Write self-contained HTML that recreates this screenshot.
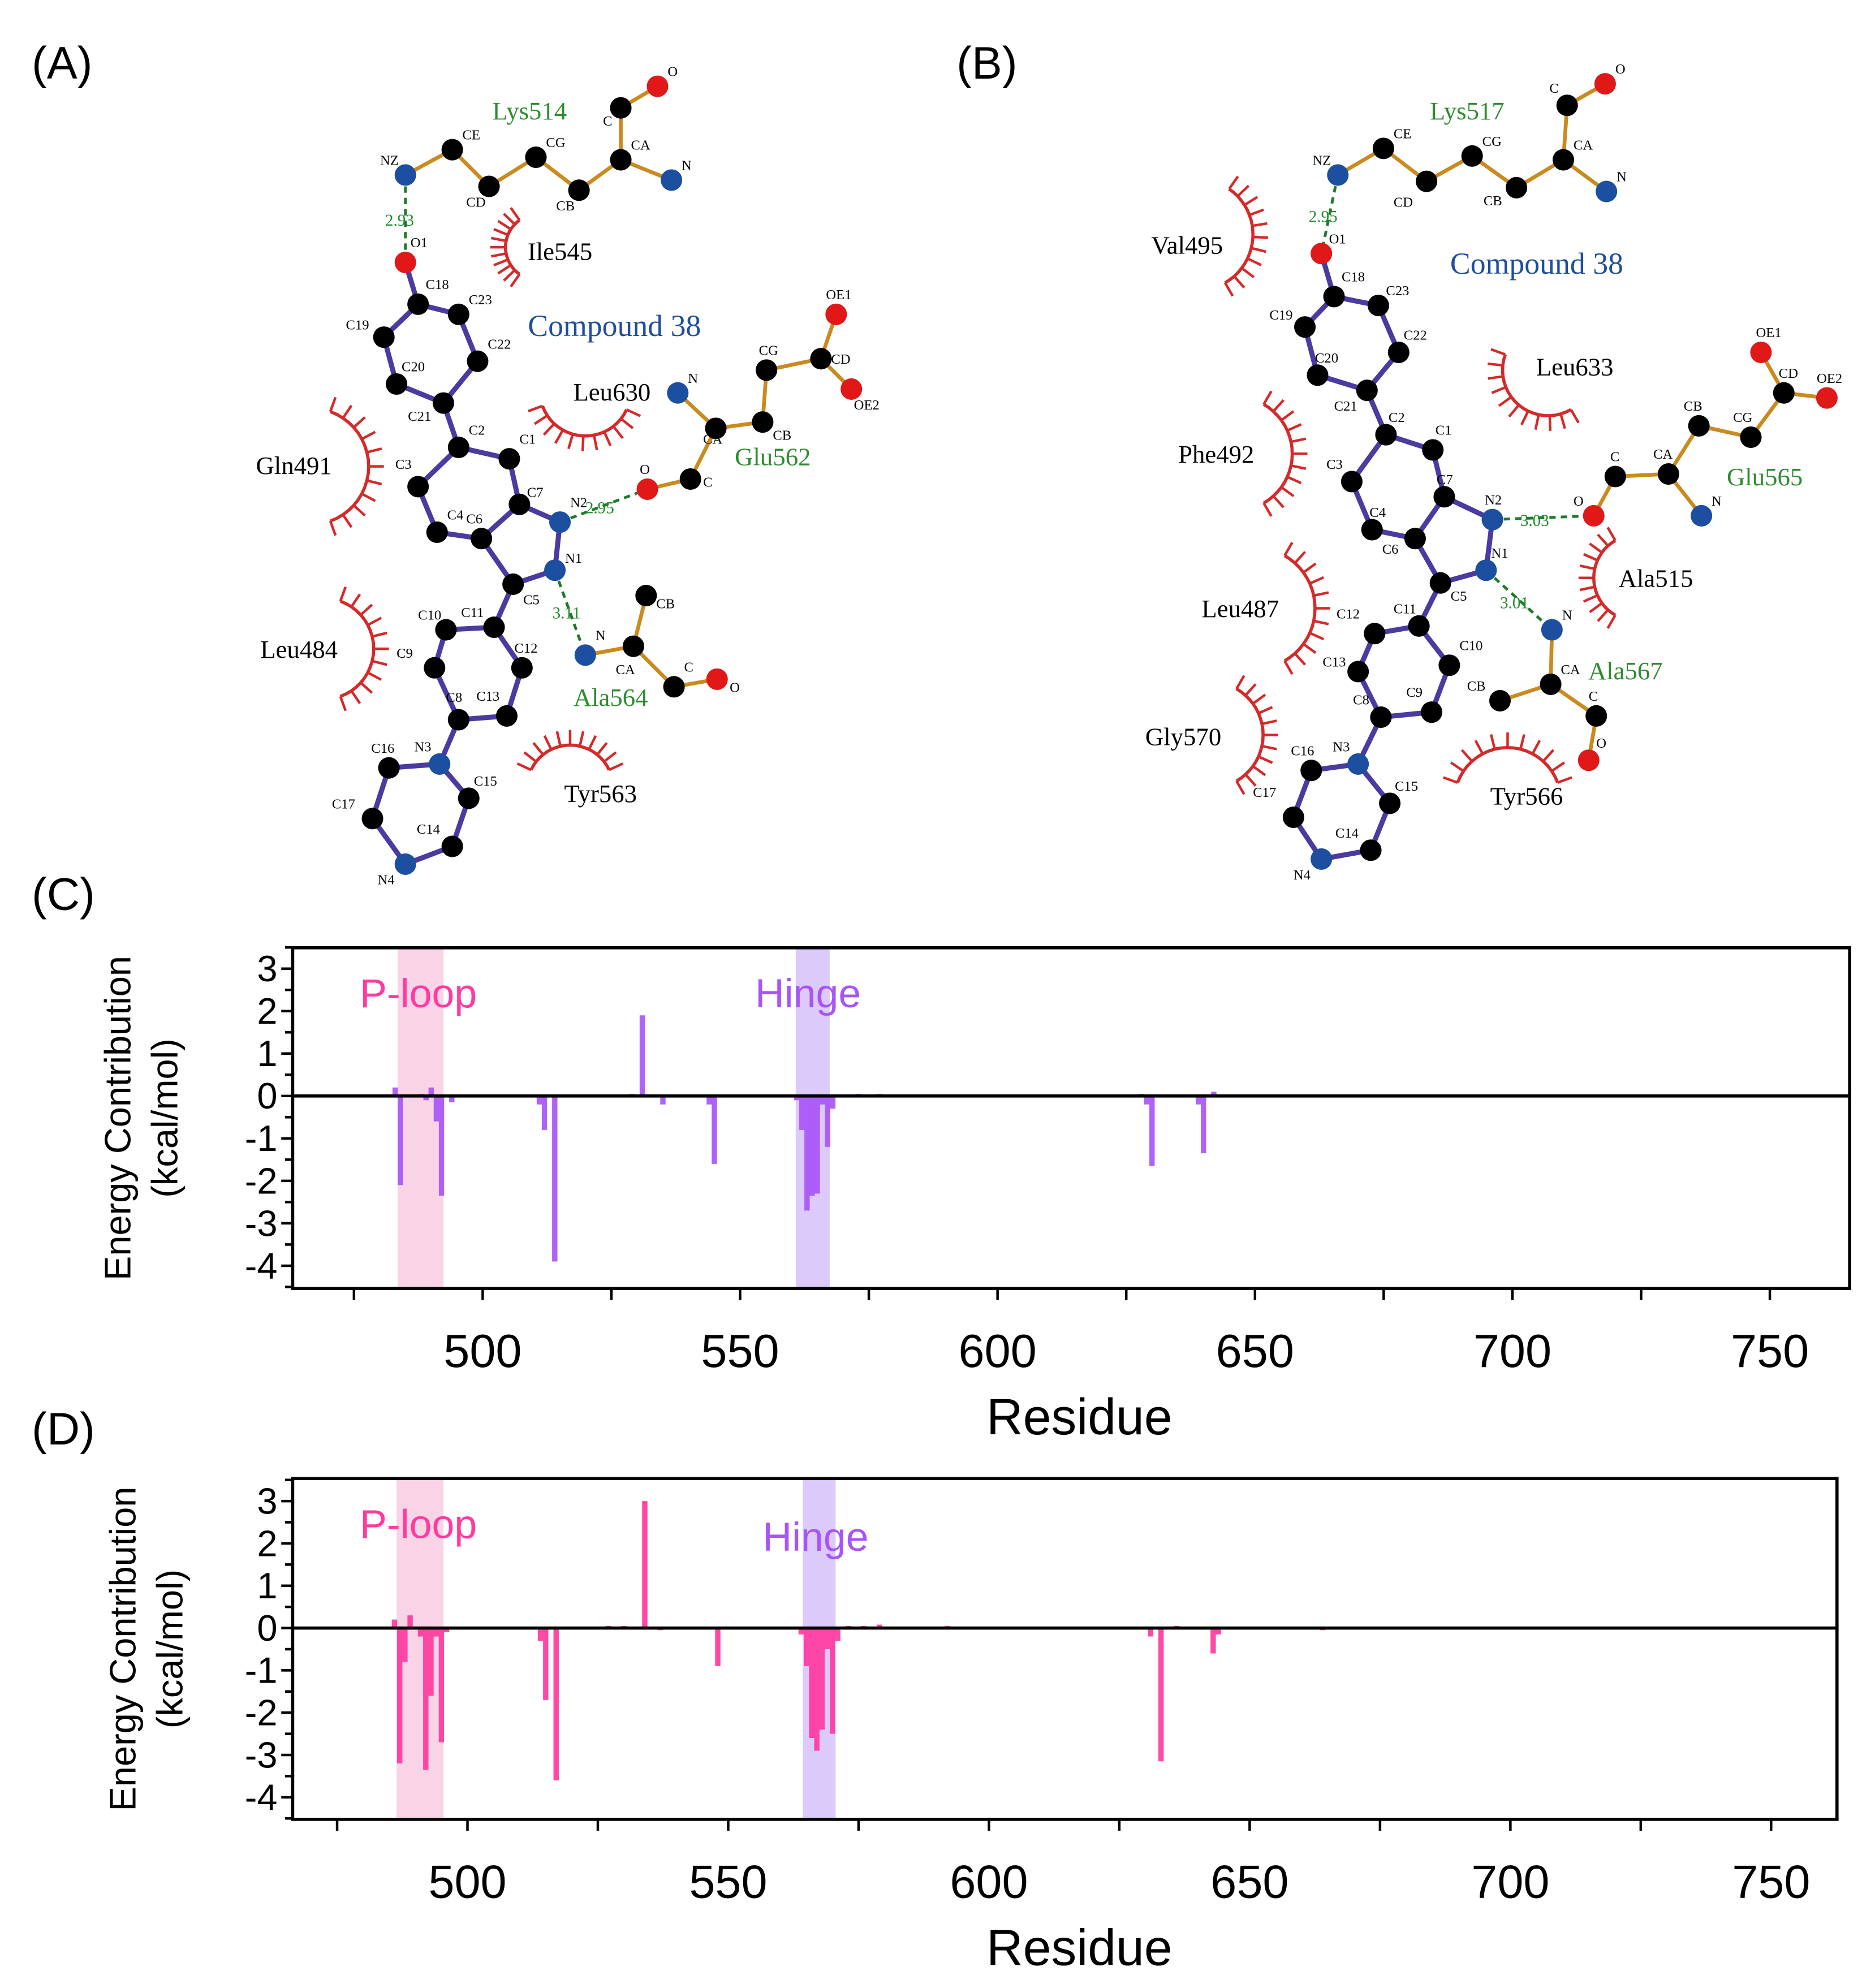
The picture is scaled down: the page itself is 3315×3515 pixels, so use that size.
<!DOCTYPE html>
<html><head><meta charset="utf-8"><style>
html,body{margin:0;padding:0;background:#fff}
svg{display:block}
text{font-family:"Liberation Sans",sans-serif}
.serif{font-family:"Liberation Serif",serif}
</style></head><body>
<svg id="fig" xmlns="http://www.w3.org/2000/svg" width="3315" height="3515" viewBox="0 0 1480 1569">
<rect width="1480" height="1569" fill="#fff"/>
<g id="mols"></g>
<g id="chartC"></g>
<g id="chartD"></g>
</svg>
<script>
// ---------- Chart data ----------
const residuesC = [483,484,488,489,490,491,492,494,511,512,514,527,529,531,535,544,545,561,562,563,564,565,566,567,568,573,577,628,629,630,634,639,640,642];
const valuesC   = [0.2,-2.1,0.05,-0.1,0.2,-0.6,-2.35,-0.15,-0.2,-0.8,-3.9,0.03,0.05,1.9,-0.2,-0.2,-1.6,-0.1,-0.8,-2.7,-2.35,-2.3,-0.2,-1.2,-0.3,0.05,0.05,0.05,-0.2,-1.65,0.03,-0.2,-1.35,0.1];
const residuesD = [486,487,488,489,491,492,493,494,495,496,514,515,517,527,530,534,537,548,564,565,566,567,568,569,570,571,573,576,579,592,631,633,636,643,644,664];
const valuesD   = [0.2,-3.2,-0.8,0.3,-0.2,-3.35,-1.6,-0.2,-2.7,-0.1,-0.3,-1.7,-3.6,0.05,0.05,3.0,-0.05,-0.9,-0.15,-0.9,-2.6,-2.9,-2.4,-0.5,-2.5,-0.3,0.05,0.05,0.08,0.05,-0.2,-3.15,0.05,-0.6,-0.15,-0.05];
const xTickLabels = [500,550,600,650,700,750];
const yTickLabels = [3,2,1,0,-1,-2,-3,-4];
const ploopC = [483.5,492.4], hingeC = [560.8,567.4];
const ploopD = [486.4,495.4], hingeD = [564.3,570.6];

const NS="http://www.w3.org/2000/svg";
function el(tag,attrs,parent,txt){const e=document.createElementNS(NS,tag);for(const k in attrs)e.setAttribute(k,attrs[k]);if(txt!==undefined)e.textContent=txt;parent.appendChild(e);return e;}

function drawChart(g,cfg){
  const X=v=>cfg.x0+(v-500)*cfg.xs, Y=v=>cfg.y0-v*cfg.ys;
  let r=el('rect',{x:X(cfg.ploop[0]),y:cfg.top,width:X(cfg.ploop[1])-X(cfg.ploop[0]),height:cfg.bot-cfg.top,fill:'#f9d3e6'},g);
  
  r=el('rect',{x:X(cfg.hinge[0]),y:cfg.top,width:X(cfg.hinge[1])-X(cfg.hinge[0]),height:cfg.bot-cfg.top,fill:'#dccafb'},g);
  
  let t=el('text',{x:cfg.plx,y:cfg.ply,'font-size':32,fill:'#ff3aa0'},g,'P-loop');
  
  t=el('text',{x:cfg.hx,y:cfg.hy,'font-size':32,fill:'#a855f7'},g,'Hinge');
  
  cfg.res.forEach((rs,i)=>{
    const v=cfg.vals[i];
    const b=el('rect',{x:X(rs)-2.1,y:Math.min(Y(v),Y(0)),width:4.2,height:Math.abs(Y(v)-Y(0)),fill:cfg.color,opacity:0.92},g);
    
    
  });
  const f=el('rect',{x:cfg.left,y:cfg.top,width:cfg.right-cfg.left,height:cfg.bot-cfg.top,fill:'none',stroke:'#000','stroke-width':2.5},g);
  
  const z=el('line',{x1:cfg.left,x2:cfg.right,y1:Y(0),y2:Y(0),stroke:'#000','stroke-width':2.5},g);
  
  for(let v=-4.5;v<=3.5;v+=0.5){
    const yy=Y(v); if(yy<cfg.top-1||yy>cfg.bot+1)continue;
    const major=Number.isInteger(v);
    el('line',{x1:cfg.left-(major?9:6),x2:cfg.left,y1:yy,y2:yy,stroke:'#000','stroke-width':2},g);
  }
  yTickLabels.forEach(v=>{
    const tl=el('text',{x:cfg.left-12,y:Y(v)+10,'font-size':29,'text-anchor':'end'},g,String(v));
    
  });
  for(let v=475;v<=750;v+=25){
    el('line',{x1:X(v),x2:X(v),y1:cfg.bot,y2:cfg.bot+9,stroke:'#000','stroke-width':2},g);
  }
  xTickLabels.forEach(v=>{
    const tl=el('text',{x:X(v),y:cfg.bot+62,'font-size':37,'text-anchor':'middle'},g,String(v));
    
  });
  t=el('text',{x:852,y:cfg.bot+115,'font-size':40,'text-anchor':'middle'},g,'Residue');
  
  const yc=(cfg.top+cfg.bot)/2;
  t=el('text',{x:0,y:0,'font-size':29,'text-anchor':'middle',transform:`translate(${cfg.ytx},${yc}) rotate(-90)`},g,'Energy Contribution');
  
  t=el('text',{x:0,y:0,'font-size':29,'text-anchor':'middle',transform:`translate(${cfg.ytx+37},${yc}) rotate(-90)`},g,'(kcal/mol)');
  
}
drawChart(document.getElementById('chartC'),{res:residuesC,vals:valuesC,color:'#a855f7',x0:381,xs:4.064,y0:865,ys:33.5,left:231,right:1460,top:748,bot:1017,ploop:ploopC,hinge:hingeC,plx:284,ply:795,hx:596,hy:795,ytx:103});
drawChart(document.getElementById('chartD'),{res:residuesD,vals:valuesD,color:'#ff3aa0',x0:369,xs:4.116,y0:1285,ys:33.4,left:231,right:1450,top:1167,bot:1436,ploop:ploopD,hinge:hingeD,plx:284,ply:1214,hx:602,hy:1224,ytx:107});

const mg=document.getElementById('mols');
[['(A)',25,62],['(B)',755,62],['(C)',25,718],['(D)',25,1140]].forEach(p=>{
  const t=el('text',{x:p[1],y:p[2],'font-size':36},mg,p[0]);
  
  
});

function molecule(g,m){
  m.arcs.forEach(a=>{
    const [cx,cy,r,a0,a1]=a, rad=d=>d*Math.PI/180;
    let d='';
    for(let k=0;k<=20;k++){const an=rad(a0+(a1-a0)*k/20);d+=(k?'L':'M')+(cx+r*Math.cos(an)).toFixed(1)+' '+(cy+r*Math.sin(an)).toFixed(1);}
    el('path',{d,fill:'none',stroke:'#d42a2a','stroke-width':2.5},g);
    for(let k=0;k<=10;k++){const an=rad(a0+(a1-a0)*k/10);
      el('line',{x1:cx+r*Math.cos(an),y1:cy+r*Math.sin(an),x2:cx+(r+12)*Math.cos(an),y2:cy+(r+12)*Math.sin(an),stroke:'#d42a2a','stroke-width':2},g);}
  });
  const A=m.atoms;
  m.side.forEach(b=>el('line',{x1:A[b[0]][0],y1:A[b[0]][1],x2:A[b[1]][0],y2:A[b[1]][1],stroke:'#c98a1e','stroke-width':3},g));
  m.lig.forEach(b=>el('line',{x1:A[b[0]][0],y1:A[b[0]][1],x2:A[b[1]][0],y2:A[b[1]][1],stroke:'#4b3aa0','stroke-width':4},g));
  m.hb.forEach(h=>{
    el('line',{x1:A[h[0]][0],y1:A[h[0]][1],x2:A[h[1]][0],y2:A[h[1]][1],stroke:'#1f7a2a','stroke-width':2.2,'stroke-dasharray':'5 4'},g);
    const t=el('text',{x:h[3],y:h[4],'font-size':13,fill:'#1f8a2a',class:'serif'},g,h[2]);
    
  });
  for(const k in A){
    const [x,y,c,lx,ly]=A[k];
    const col=c==='r'?'#e01818':c==='b'?'#1c4fa0':'#000';
    el('circle',{cx:x,cy:y,r:8.5,fill:col},g);
    const name=k.split('_')[0];
    el('text',{x:x+(lx||8),y:y+(ly||-8),'font-size':11,class:'serif'},g,name);
  }
  m.labels.forEach(l=>{
    const t=el('text',{x:l[1],y:l[2],'font-size':l[4]||20,fill:l[3],'text-anchor':'middle',class:'serif'},g,l[0]);
    
  });
}
const gA=el('g',{},mg);
molecule(gA,{
 atoms:{NZ:[320,138,'b',-20,-8],CE:[357,118,'k'],CD:[386,147,'k',-18,16],CG:[423,124,'k'],CB:[457,150,'k',-18,16],CA:[490,126,'k'],C_l:[490,85,'k',-14,14],O_l:[519,68,'r'],N_l:[530,142,'b'],
  O1:[320,207,'r',4,-12],C18:[330,240,'k',6,-12],C23:[362,248,'k',8,-8],C22:[377,285,'k',0,-10],C21:[350,318,'k',-28,14],C20:[313,303,'k',4,-10],C19:[303,266,'k',-30,-6],
  C2:[362,353,'k',0,-10],C1:[402,362,'k',0,-12],C7:[410,398,'k',6,-6],C6:[380,425,'k',-12,-12],C4:[345,420,'k',0,-10],C3:[330,384,'k',-18,-14],
  N2:[442,412,'b',0,-12],N1:[438,450,'b',8,-6],C5:[405,461,'k',8,16],
  C11:[390,495,'k',-26,-8],C12:[412,527,'k',-6,-12],C13:[400,565,'k',-24,-12],C8:[362,568,'k',-10,-14],C9:[343,527,'k',-30,0],C10:[352,497,'k',-22,-8],
  N3:[347,603,'b',-20,-10],C16:[307,606,'k',-14,-12],C17:[294,646,'k',-32,-8],N4:[320,682,'b',-22,16],C14:[357,668,'k',-28,-10],C15:[370,630,'k',4,-10],
  N_g:[535,310,'b'],CA_g:[565,338,'k',-10,12],CB_g:[602,333,'k',8,14],CG_g:[605,292,'k',-6,-12],CD_g:[648,283,'k',8,4],OE1:[660,248,'r',-8,-12],OE2:[672,307,'r',2,16],C_g:[545,378,'k',10,6],O_g:[511,386,'r',-6,-12],
  N_a:[462,517,'b',0,-12],CA_a:[500,510,'k',-14,22],CB_a:[510,470,'k',8,10],C_a:[532,542,'k',0,-12],O_a:[566,536,'r',10,10]},
 side:[['NZ','CE'],['CE','CD'],['CD','CG'],['CG','CB'],['CB','CA'],['CA','C_l'],['C_l','O_l'],['CA','N_l'],
  ['N_g','CA_g'],['CA_g','CB_g'],['CB_g','CG_g'],['CG_g','CD_g'],['CD_g','OE1'],['CD_g','OE2'],['CA_g','C_g'],['C_g','O_g'],
  ['N_a','CA_a'],['CA_a','CB_a'],['CA_a','C_a'],['C_a','O_a']],
 lig:[['O1','C18'],['C18','C23'],['C23','C22'],['C22','C21'],['C21','C20'],['C20','C19'],['C19','C18'],['C21','C2'],['C2','C1'],['C1','C7'],['C7','C6'],['C6','C4'],['C4','C3'],['C3','C2'],
  ['C7','N2'],['N2','N1'],['N1','C5'],['C5','C6'],['C5','C11'],['C11','C12'],['C12','C13'],['C13','C8'],['C8','C9'],['C9','C10'],['C10','C11'],['C8','N3'],['N3','C16'],['C16','C17'],['C17','N4'],['N4','C14'],['C14','C15'],['C15','N3']],
 hb:[['NZ','O1','2.93',304,178],['N2','O_g','2.95',462,405],['N1','N_a','3.11',436,488]],
 arcs:[[425,195,26,125,235],[462,308,36,25,160],[245,368,46,-70,70],[255,512,40,-70,70],[450,622,34,205,335]],
 labels:[['Lys514',418,94,'#2e8b2e'],['Ile545',442,205,'#000'],['Compound 38',485,265,'#1f4e9c',24],['Leu630',483,316,'#000'],['Glu562',610,367,'#2e8b2e'],['Gln491',232,374,'#000'],['Leu484',236,519,'#000'],['Ala564',482,557,'#2e8b2e'],['Tyr563',474,633,'#000']]
});
const gB=el('g',{},mg);
molecule(gB,{
 atoms:{NZ:[1056,138,'b',-20,-8],CE:[1092,117,'k'],CD:[1126,143,'k',-26,20],CG:[1162,123,'k'],CB:[1197,148,'k',-26,14],CA:[1234,126,'k'],C_l:[1237,83,'k',-14,-10],O_l:[1267,66,'r'],N_l:[1268,151,'b'],
  O1:[1043,200,'r',6,-8],C18:[1053,234,'k',6,-12],C23:[1088,241,'k',6,-8],C22:[1104,278,'k',4,-10],C21:[1079,308,'k',-26,16],C20:[1040,296,'k',-2,-10],C19:[1030,258,'k',-28,-6],
  C2:[1094,343,'k',2,-10],C1:[1131,355,'k',2,-12],C7:[1140,392,'k',-6,-10],C6:[1117,425,'k',-26,12],C4:[1083,418,'k',-2,-10],C3:[1067,380,'k',-20,-10],
  N2:[1178,410,'b',-6,-12],N1:[1173,450,'b',4,-10],C5:[1137,460,'k',8,14],
  C11:[1120,494,'k',-20,-10],C10:[1144,525,'k',0,-12],C9:[1130,562,'k',-20,-12],C8:[1090,566,'k',-22,-10],C13:[1072,530,'k',-28,-4],C12:[1085,500,'k',-30,-12],
  N3:[1072,603,'b',-20,-10],C16:[1035,608,'k',-16,-12],C17:[1021,645,'k',-32,-16],N4:[1043,678,'b',-22,16],C14:[1082,671,'k',-28,-10],C15:[1097,634,'k',4,-10],
  O_g:[1258,407,'r',-16,-8],C_g:[1275,376,'k',-4,-12],CA_g:[1317,374,'k',-12,-12],N_g:[1343,407,'b'],CB_g:[1341,336,'k',-12,-12],CG_g:[1382,345,'k',-14,-12],CD_g:[1408,310,'k',-4,-12],OE1:[1390,278,'r',-4,-12],OE2:[1442,314,'r',-8,-12],
  N_a:[1225,497,'b'],CA_a:[1224,540,'k'],CB_a:[1184,553,'k',-26,-8],C_a:[1260,565,'k',-6,-12],O_a:[1254,600,'r',6,-10]},
 side:[['NZ','CE'],['CE','CD'],['CD','CG'],['CG','CB'],['CB','CA'],['CA','C_l'],['C_l','O_l'],['CA','N_l'],
  ['O_g','C_g'],['C_g','CA_g'],['CA_g','N_g'],['CA_g','CB_g'],['CB_g','CG_g'],['CG_g','CD_g'],['CD_g','OE1'],['CD_g','OE2'],
  ['N_a','CA_a'],['CA_a','CB_a'],['CA_a','C_a'],['C_a','O_a']],
 lig:[['O1','C18'],['C18','C23'],['C23','C22'],['C22','C21'],['C21','C20'],['C20','C19'],['C19','C18'],['C21','C2'],['C2','C1'],['C1','C7'],['C7','C6'],['C6','C4'],['C4','C3'],['C3','C2'],
  ['C7','N2'],['N2','N1'],['N1','C5'],['C5','C6'],['C5','C11'],['C11','C10'],['C10','C9'],['C9','C8'],['C8','C13'],['C13','C12'],['C12','C11'],['C8','N3'],['N3','C16'],['C16','C17'],['C17','N4'],['N4','C14'],['C14','C15'],['C15','N3']],
 hb:[['NZ','O1','2.95',1033,175],['N2','O_g','3.03',1200,415],['N1','N_a','3.01',1184,480]],
 arcs:[[945,185,44,-55,60],[1222,292,36,60,200],[975,358,45,-60,60],[990,480,48,-60,60],[955,580,42,-60,60],[1292,456,34,120,240],[1190,632,42,200,340]],
 labels:[['Lys517',1158,94,'#2e8b2e'],['Val495',937,200,'#000'],['Compound 38',1213,216,'#1f4e9c',24],['Leu633',1243,296,'#000'],['Phe492',960,365,'#000'],['Glu565',1393,383,'#2e8b2e'],['Ala515',1307,463,'#000'],['Leu487',979,487,'#000'],['Ala567',1283,536,'#2e8b2e'],['Gly570',934,588,'#000'],['Tyr566',1205,635,'#000']]
});
</script>
</body></html>
